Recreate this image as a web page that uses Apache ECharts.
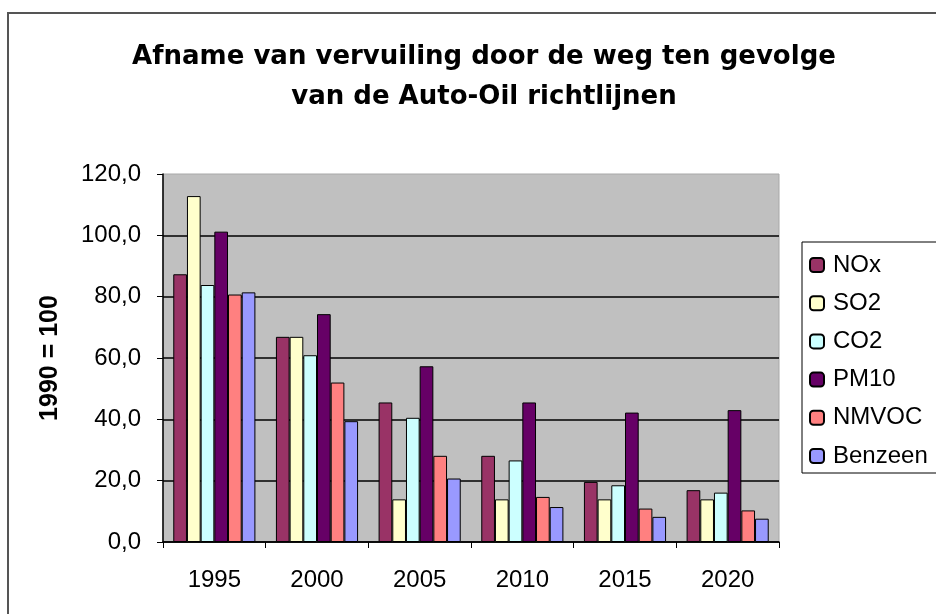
<!DOCTYPE html>
<html>
<head>
<meta charset="utf-8">
<script src="https://cdn.jsdelivr.net/npm/echarts@6/dist/echarts.min.js"></script>
<style>
  html, body { margin: 0; padding: 0; background: #fff; }
  #chart { width: 936px; height: 614px; }
</style>
</head>
<body>
<div id="chart"></div>
<script>
// jaren (categorieen)
var years = ['1995', '2000', '2005', '2010', '2015', '2020'];

// index 1990 = 100
var nox     = [87.3, 66.9, 45.5, 28.1, 19.6, 16.9];
var so2     = [112.8, 66.9, 13.9, 13.9, 13.9, 13.9];
var co2     = [83.8, 60.9, 40.5, 26.6, 18.5, 16.1];
var pm10    = [101.2, 74.3, 57.3, 45.5, 42.2, 43.0];
var nmvoc   = [80.7, 52.0, 28.1, 14.7, 10.9, 10.3];
var benzeen = [81.4, 39.4, 20.7, 11.4, 8.2, 7.6];

var seriesNames = ['NOx', 'SO2', 'CO2', 'PM10', 'NMVOC', 'Benzeen'];
var seriesData = [nox, so2, co2, pm10, nmvoc, benzeen];
var colors = ['#993366', '#FFFFCC', '#CCFFFF', '#660066', '#FF8080', '#9999FF'];

var font = '"Liberation Sans", Arial, sans-serif';

var myChart = echarts.init(document.getElementById('chart'));

var option = {
  animation: false,
  backgroundColor: '#ffffff',
  title: {
    text: 'Afname van vervuiling door de weg ten gevolge\nvan de Auto-Oil richtlijnen',
    left: 479,
    top: 32,
    textAlign: 'center',
    textStyle: {
      fontFamily: '"DejaVu Sans", sans-serif',
      fontSize: 26,
      fontWeight: 'bold',
      color: '#000',
      lineHeight: 40
    }
  },
  graphic: [{
    type: 'rect',
    z: -1,
    shape: { x: 8, y: 13, width: 1000, height: 700 },
    style: { fill: 'none', stroke: '#555', lineWidth: 2 }
  }],
  legend: {
    orient: 'vertical',
    left: 802,
    top: 242,
    itemWidth: 14,
    itemHeight: 14,
    itemGap: 14.2,
    padding: [11, 60, 5, 7],
    borderColor: '#000',
    borderWidth: 1,
    backgroundColor: '#fff',
    data: seriesNames,
    textStyle: {
      fontFamily: font,
      fontSize: 24,
      color: '#000',
      padding: [0, 0, 0, 4]
    }
  },
  grid: {
    left: 163,
    right: 157,
    top: 174,
    bottom: 72,
    show: true,
    backgroundColor: '#C0C0C0',
    borderColor: '#a8a8a8',
    borderWidth: 1
  },
  xAxis: {
    type: 'category',
    data: years,
    axisLine: { lineStyle: { color: '#000', width: 1.5 } },
    axisTick: { show: true, length: 6, lineStyle: { color: '#000' } },
    axisLabel: {
      fontFamily: font,
      fontSize: 24,
      color: '#000',
      margin: 26
    }
  },
  yAxis: {
    type: 'value',
    min: 0,
    max: 120,
    interval: 20,
    name: '1990 = 100',
    nameLocation: 'middle',
    nameGap: 100,
    nameRotate: 90,
    nameTextStyle: {
      fontFamily: font,
      fontSize: 25,
      fontWeight: 'bold',
      color: '#000'
    },
    axisLine: { show: true, lineStyle: { color: '#000', width: 1.5 } },
    axisTick: { show: true, length: 6, lineStyle: { color: '#000' } },
    splitLine: { show: true, showMaxLine: false, lineStyle: { color: '#000', width: 1.5 } },
    axisLabel: {
      fontFamily: font,
      fontSize: 24,
      color: '#000',
      margin: 22,
      formatter: function (v) { return v.toFixed(1).replace('.', ','); }
    }
  },
  series: seriesNames.map(function (name, i) {
    return {
      name: name,
      type: 'bar',
      data: seriesData[i],
      barGap: '0%',
      barCategoryGap: '20%',
      itemStyle: {
        color: colors[i],
        borderColor: '#000',
        borderWidth: 1
      }
    };
  })
};

myChart.setOption(option);
window.addEventListener('resize', function () { myChart.resize(); });
</script>
</body>
</html>
